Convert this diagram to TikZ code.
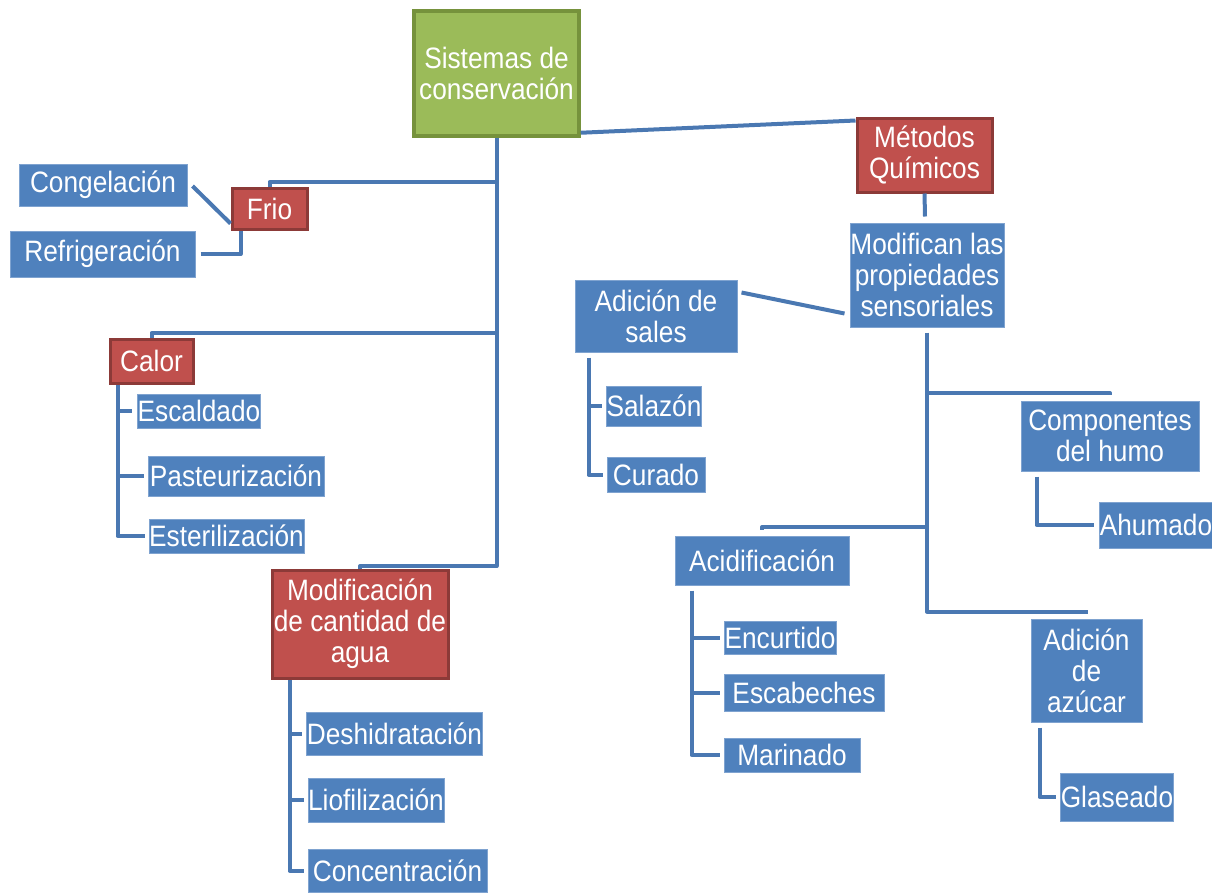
\documentclass[tikz,border=0pt]{standalone}
\usepackage{fontspec}
\setmainfont{Liberation Sans}[FakeStretch=0.89]
\usetikzlibrary{calc}
\definecolor{boxblue}{HTML}{4F81BD}
\definecolor{boxblueedge}{HTML}{7FA3D0}
\definecolor{boxred}{HTML}{C0504D}
\definecolor{boxrededge}{HTML}{8C3A38}
\definecolor{boxgreen}{HTML}{9BBB59}
\definecolor{boxgreenedge}{HTML}{76923C}
\definecolor{linkblue}{HTML}{4A78B2}
\tikzset{
  basebox/.style={rectangle, inner sep=0pt, align=center, text=white,
    font=\fontsize{29.5}{31}\selectfont},
  bluebox/.style={basebox, fill=boxblue, draw=boxblueedge, line width=1pt},
  redbox/.style={basebox, fill=boxred, draw=boxrededge, line width=3pt},
  greenbox/.style={basebox, fill=boxgreen, draw=boxgreenedge, line width=3.5pt},
  link/.style={draw=linkblue, line width=4pt, line join=round},
}
\begin{document}
\begin{tikzpicture}[x=1pt,y=-1pt]
\useasboundingbox (0,0) rectangle (1212,892);

% ---- root and main categories
\node[greenbox, minimum width=165, minimum height=125] (sis) at (496.5,73.5) {Sistemas de\\conservación};
\node[redbox, minimum width=135, minimum height=74] (met) at (924.5,155) {Métodos\\Químicos};
\node[redbox, minimum width=75, minimum height=41] (frio) at (269.5,208.5) {Frio};
\node[redbox, minimum width=83, minimum height=44] (calor) at (151.5,361) {Calor};
\node[redbox, minimum width=176, minimum height=108] (modc) at (360,624) {Modificación\\de cantidad de\\agua};

% ---- cold
\node[bluebox, minimum width=168, minimum height=42] (cong) at (103,185) {Congelación};
\node[bluebox, minimum width=185, minimum height=46] (refr) at (102.5,254) {Refrigeración};

% ---- heat
\node[bluebox, minimum width=122, minimum height=34] (esc) at (199,411) {Escaldado};
\node[bluebox, minimum width=176, minimum height=40] (past) at (236,476) {Pasteurización};
\node[bluebox, minimum width=155, minimum height=34] (este) at (226.5,536) {Esterilización};

% ---- water content
\node[bluebox, minimum width=173, minimum height=43] (desh) at (394.5,733.5) {Deshidratación};
\node[bluebox, minimum width=136, minimum height=44] (liof) at (376,800) {Liofilización};
\node[bluebox, minimum width=179, minimum height=43] (conc) at (397.5,870.5) {Concentración};

% ---- chemical methods
\node[bluebox, minimum width=154, minimum height=104] (modif) at (927,275) {Modifican las\\propiedades\\sensoriales};
\node[bluebox, minimum width=162, minimum height=72] (sales) at (656,316) {Adición de\\sales};
\node[bluebox, minimum width=94, minimum height=40] (salaz) at (654,406) {Salazón};
\node[bluebox, minimum width=98, minimum height=35] (curado) at (656,474.5) {Curado};
\node[bluebox, minimum width=178, minimum height=70] (comp) at (1110,436) {Componentes\\del humo};
\node[bluebox, minimum width=110, minimum height=46] (ahum) at (1156,525) {Ahumado};
\node[bluebox, minimum width=174, minimum height=49] (acid) at (762,560.5) {Acidificación};
\node[bluebox, minimum width=112, minimum height=33] (encu) at (780,637.5) {Encurtido};
\node[bluebox, minimum width=160, minimum height=37] (escab) at (804,692.5) {Escabeches};
\node[bluebox, minimum width=136, minimum height=34] (mari) at (792,755) {Marinado};
\node[bluebox, minimum width=111, minimum height=103] (azuc) at (1086.5,670.5) {Adición\\de\\azúcar};
\node[bluebox, minimum width=112, minimum height=48] (glas) at (1117,797) {Glaseado};

% ---- trunk from the root
\draw[link] (sis.south) -- (sis.south |- 0,566) -| (modc.north);
\draw[link] (sis.south |- 0,182) -| (frio.north);
\draw[link] (sis.south |- 0,333) -| (calor.north);
\draw[link] ($(sis.south east)+(0,-5)$) -- ($(met.north west)+(0,4)$);

% ---- cold branches
\draw[link] ($(cong.east)+(5,1)$) -- ($(frio.south west)+(0,-7)$);
\draw[link] ($(refr.east)+(5,0)$) -| ($(frio.south west)+(10,0)$);

% ---- heat branches
\coordinate (cx) at ($(calor.south west)+(9,0)$);
\draw[link] (cx) |- ($(este.west)+(-4,0)$);
\draw[link] (cx |- esc.west) -- ($(esc.west)+(-5,0)$);
\draw[link] (cx |- past.west) -- ($(past.west)+(-4,0)$);

% ---- water content branches
\coordinate (mx) at ($(modc.south west)+(19,0)$);
\draw[link] (mx) |- ($(conc.west)+(-4,0)$);
\draw[link] (mx |- desh.west) -- ($(desh.west)+(-4,0)$);
\draw[link] (mx |- liof.west) -- ($(liof.west)+(-4,0)$);

% ---- chemical methods
\draw[link] (met.south) -- ($(modif.north)+(-2,-6)$);
\draw[link] ($(sales.north east)+(4,13)$) -- ($(modif.south west)+(-5,-14)$);
\coordinate (tx) at ($(modif.south)+(0,5)$);
\draw[link] (tx) |- ($(azuc.north)+(1.5,-7)$);
\draw[link, shorten >=6pt] (tx |- 0,393) -| (comp.north);
\draw[link, shorten >=6pt] (tx |- 0,527) -| (acid.north);

% ---- salts
\coordinate (sx) at ($(sales.south west)+(14,5)$);
\draw[link] (sx) |- ($(curado.west)+(-4,0)$);
\draw[link] (sx |- salaz.west) -- ($(salaz.west)+(-4,0)$);

% ---- smoke
\draw[link] ($(comp.south west)+(16,5)$) |- ($(ahum.west)+(-5,0)$);

% ---- acidification
\coordinate (ax) at ($(acid.south west)+(17,5)$);
\draw[link] (ax) |- ($(mari.west)+(-4,0)$);
\draw[link] (ax |- encu.west) -- ($(encu.west)+(-4,0)$);
\draw[link] (ax |- escab.west) -- ($(escab.west)+(-4,0)$);

% ---- sugar
\draw[link] ($(azuc.south west)+(9,5)$) |- ($(glas.west)+(-4,0)$);
\end{tikzpicture}
\end{document}
